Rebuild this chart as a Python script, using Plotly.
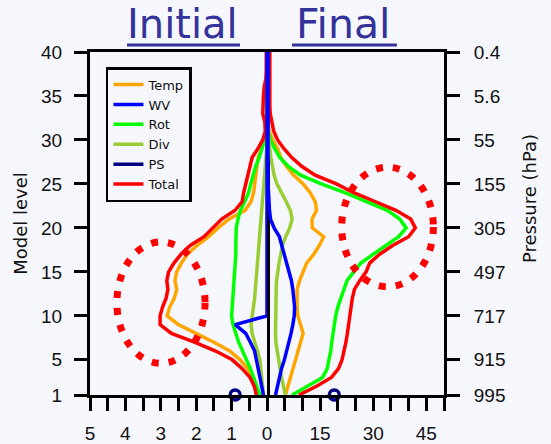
import plotly.graph_objects as go

# ---------------- data ----------------
levels = list(range(1, 41))
level_ticks = [1, 5, 10, 15, 20, 25, 30, 35, 40]
pressure_labels = ["995", "915", "717", "497", "305", "155", "55", "5.6", "0.4"]

initial_tickvals = [5, 4.5, 4, 3.5, 3, 2.5, 2, 1.5, 1, 0.5, 0]
initial_ticktext = ["5", "", "4", "", "3", "", "2", "", "1", "", "0"]
final_tickvals = [5, 10, 15, 20, 25, 30, 35, 40, 45, 50]
final_ticktext = ["", "", "15", "", "", "30", "", "", "45", ""]

# Initial (left panel, reversed axis 5 -> 0)
temp_initial = [0.27, 0.31, 0.40, 0.55, 0.76, 1.05, 1.50, 2.00, 2.50, 2.82,
                2.75, 2.62, 2.55, 2.60, 2.55, 2.42, 2.25, 1.98, 1.65, 1.38,
                1.08, 0.62, 0.45, 0.38, 0.35, 0.32, 0.29, 0.25, 0.15, 0.06,
                0.03, 0.02, 0.01, 0.01, 0.01, 0.01, 0.01, 0.01, 0.01, 0.01]
wv_initial = [0.10, 0.15, 0.20, 0.25, 0.28, 0.35, 0.47, 0.60, 0.90, 0.0,
              0.0, 0.0, 0.0, 0.0, 0.0, 0.0, 0.0, 0.0, 0.0, 0.0,
              0.0, 0.0, 0.0, 0.0, 0.0, 0.0, 0.0, 0.0, 0.0, 0.0,
              0.0, 0.0, 0.0, 0.0, 0.0, 0.0, 0.0, 0.0, 0.0, 0.0]
rot_initial = [0.20, 0.28, 0.38, 0.47, 0.58, 0.70, 0.80, 0.88, 0.96, 1.00,
               0.98, 0.96, 0.94, 0.92, 0.90, 0.88, 0.88, 0.88, 0.88, 0.87,
               0.82, 0.75, 0.63, 0.52, 0.46, 0.40, 0.32, 0.22, 0.14, 0.07,
               0.03, 0.01, 0.0, 0.0, 0.0, 0.0, 0.0, 0.0, 0.0, 0.0]
div_initial = [0.10, 0.13, 0.16, 0.18, 0.20, 0.27, 0.35, 0.42, 0.45, 0.41,
               0.38, 0.35, 0.33, 0.31, 0.28, 0.26, 0.24, 0.22, 0.20, 0.18,
               0.16, 0.14, 0.11, 0.09, 0.07, 0.05, 0.03, 0.02, 0.01, 0.01,
               0.01, 0.0, 0.0, 0.0, 0.0, 0.0, 0.0, 0.0, 0.0, 0.0]
total_initial = [0.30, 0.36, 0.48, 0.70, 0.98, 1.45, 2.05, 2.70, 3.02, 3.02,
                 2.95, 2.85, 2.80, 2.83, 2.78, 2.63, 2.43, 2.17, 1.78, 1.52,
                 1.28, 0.90, 0.70, 0.66, 0.60, 0.56, 0.50, 0.42, 0.26, 0.12,
                 0.05, 0.06, 0.12, 0.12, 0.10, 0.08, 0.03, 0.02, 0.02, 0.02]
ps_initial = 0.9

# Final (right panel, axis 0 -> 50)
temp_final = [5.2, 5.9, 6.6, 7.3, 8.0, 8.7, 9.4, 10.2, 9.5, 8.7,
              8.5, 8.5, 8.5, 9.2, 10.1, 11.2, 13.2, 14.8, 16.0, 12.8,
              12.7, 14.0, 13.6, 12.2, 10.2, 7.5, 5.5, 3.9, 3.0, 1.6,
              0.6, 0.3, 0.1, 0.1, 0.1, 0.1, 0.1, 0.1, 0.1, 0.1]
wv_final = [2.4, 2.9, 3.5, 4.1, 4.9, 5.6, 6.3, 6.8, 7.3, 7.7,
            7.8, 7.6, 7.3, 6.9, 6.2, 5.5, 5.0, 4.3, 3.5, 2.0,
            1.0, 0.7, 0.5, 0.4, 0.3, 0.3, 0.3, 0.3, 0.3, 0.3,
            0.3, 0.3, 0.3, 0.3, 0.3, 0.3, 0.3, 0.3, 0.3, 0.3]
rot_final = [7.1, 11.3, 15.7, 17.0, 17.6, 18.0, 18.3, 18.6, 18.9, 19.4,
             20.0, 20.8, 21.6, 22.6, 24.5, 26.5, 30.0, 33.8, 37.2, 39.3,
             37.5, 34.0, 28.0, 22.0, 15.3, 9.5, 6.0, 3.6, 2.2, 1.0,
             0.3, 0.1, 0.05, 0.05, 0.05, 0.05, 0.05, 0.05, 0.05, 0.05]
div_final = [5.2, 4.6, 4.1, 3.7, 3.3, 2.9, 2.5, 2.4, 2.4, 2.4,
             2.4, 2.5, 2.6, 2.7, 3.0, 3.4, 3.9, 4.3, 5.3, 6.4,
             7.1, 6.6, 5.4, 4.0, 2.8, 2.0, 1.5, 1.1, 0.8, 0.5,
             0.3, 0.1, 0.05, 0.05, 0.05, 0.05, 0.05, 0.05, 0.05, 0.05]
total_final = [9.0, 14.0, 18.2, 20.2, 21.2, 21.8, 22.3, 22.7, 23.0, 23.3,
               23.6, 24.1, 24.7, 26.2, 28.0, 29.0, 31.8, 35.5, 40.0, 41.9,
               40.6, 36.4, 30.5, 24.5, 19.6, 13.6, 9.8, 7.0, 4.8, 3.0,
               1.9, 1.3, 0.9, 0.8, 0.8, 0.8, 0.8, 0.8, 0.8, 0.8]
ps_final = 19.0

# ---------------- style ----------------
BG = "#F6F7FD"
FONT = "Liberation Sans, Arial, Helvetica, sans-serif"
WIDE = "DejaVu Sans, Verdana, sans-serif"
TITLE_COLOR = "#333399"
LW = 3.5
colors = {"Temp": "#FFA500", "WV": "#0000FF", "Rot": "#00FF00",
          "Div": "#9ACD32", "PS": "#000080", "Total": "#FF0000"}
ranks = {"Temp": 1, "WV": 2, "Rot": 3, "Div": 4, "PS": 5, "Total": 6}

initial = {"Temp": temp_initial, "Rot": rot_initial, "Div": div_initial,
           "Total": total_initial, "WV": wv_initial}
final = {"Temp": temp_final, "Rot": rot_final, "Div": div_final,
         "Total": total_final, "WV": wv_final}
draw_order = ["Temp", "Rot", "Div", "Total", "WV"]

fig = go.Figure()
for name in draw_order:
    fig.add_trace(go.Scatter(
        x=initial[name], y=levels, xaxis="x", yaxis="y", mode="lines",
        name=name, legendrank=ranks[name], cliponaxis=False,
        line=dict(color=colors[name], width=LW)))
for name in draw_order:
    fig.add_trace(go.Scatter(
        x=final[name], y=levels, xaxis="x2", yaxis="y2", mode="lines",
        name=name, showlegend=False, cliponaxis=False,
        line=dict(color=colors[name], width=LW)))

# PS: surface-only values shown as circles
fig.add_trace(go.Scatter(x=[None], y=[None], mode="lines", name="PS",
                         legendrank=ranks["PS"],
                         line=dict(color=colors["PS"], width=LW)))
for xa, ya, val in (("x", "y", ps_initial), ("x2", "y2", ps_final)):
    fig.add_trace(go.Scatter(x=[val], y=[levels[0]], xaxis=xa, yaxis=ya,
                             mode="markers", showlegend=False, cliponaxis=False,
                             marker=dict(symbol="circle-open", size=10,
                                         color=colors["PS"],
                                         line=dict(color=colors["PS"], width=3.5))))

axis_common = dict(showline=True, linecolor="black", linewidth=3,
                   showgrid=False, zeroline=False, automargin=False,
                   ticks="outside", tickcolor="black", tickwidth=3,
                   ticklen=13, tickfont=dict(family=FONT, size=19, color="#111"))

fig.update_layout(
    width=551, height=444,
    margin=dict(l=90, r=107, t=52, b=49),
    paper_bgcolor=BG, plot_bgcolor=BG,
    font=dict(family=FONT, color="#111"),
    xaxis=dict(domain=[0, 0.5], range=[5, 0], anchor="y", mirror=True,
               tickmode="array", tickvals=initial_tickvals,
               ticktext=initial_ticktext, ticklabelstandoff=6,
               **axis_common),
    xaxis2=dict(domain=[0.5, 1], range=[0, 50], anchor="y2", mirror=True,
                tickmode="array", tickvals=final_tickvals,
                ticktext=final_ticktext, ticklabelstandoff=6,
                **axis_common),
    yaxis=dict(range=[1, 40], anchor="x", side="left", mirror=True,
               tickmode="array", tickvals=level_ticks,
               ticktext=[str(v) for v in level_ticks],
               ticklabelstandoff=8, layer="below traces",
               title=dict(text="Model level", standoff=9,
                          font=dict(family=WIDE, size=18, color="#111")),
               **axis_common),
    yaxis2=dict(range=[1, 40], anchor="x2", side="right", mirror=False,
                tickmode="array", tickvals=level_ticks,
                ticktext=pressure_labels, ticklabelstandoff=10,
                layer="below traces",
                **axis_common),
    legend=dict(x=0.045, y=0.956, xanchor="left", yanchor="top",
                bgcolor=BG, bordercolor="black", borderwidth=2.5,
                font=dict(family=WIDE, size=13, color="#111"),
                tracegroupgap=0),
    showlegend=True,
    annotations=[
        dict(text="Initial", xref="paper", yref="paper", x=0.2627, y=1.082,
             xanchor="center", yanchor="middle", showarrow=False,
             font=dict(family=WIDE, size=40, color=TITLE_COLOR)),
        dict(text="Final", xref="paper", yref="paper", x=0.7147, y=1.082,
             xanchor="center", yanchor="middle", showarrow=False,
             font=dict(family=WIDE, size=41, color=TITLE_COLOR)),
        dict(text="Pressure (hPa)", xref="paper", yref="paper", x=1.24, y=0.574,
             xanchor="center", yanchor="middle", showarrow=False, textangle=-90,
             font=dict(family=WIDE, size=18, color="#111")),
    ],
    shapes=[
        dict(type="line", xref="paper", yref="paper", x0=0.1045, x1=0.4237,
             y0=1.0204, y1=1.0204, line=dict(color=TITLE_COLOR, width=3)),
        dict(type="line", xref="paper", yref="paper", x0=0.5706, x1=0.867,
             y0=1.0204, y1=1.0204, line=dict(color=TITLE_COLOR, width=3)),
        dict(type="circle", xref="x", yref="y", x0=4.24, x1=1.75,
             y0=4.6, y1=18.4, layer="above",
             line=dict(color="#FF0000", width=7, dash="7px,10px")),
        dict(type="circle", xref="x2", yref="y2", x0=21.1, x1=47.0,
             y0=13.3, y1=26.9, layer="above",
             line=dict(color="#FF0000", width=7, dash="7px,10px")),
    ],
)

fig.write_html("out.html",
               config={"displayModeBar": False},
               post_script="document.body.style.margin='0px';"
                           "document.body.style.overflow='hidden';")
